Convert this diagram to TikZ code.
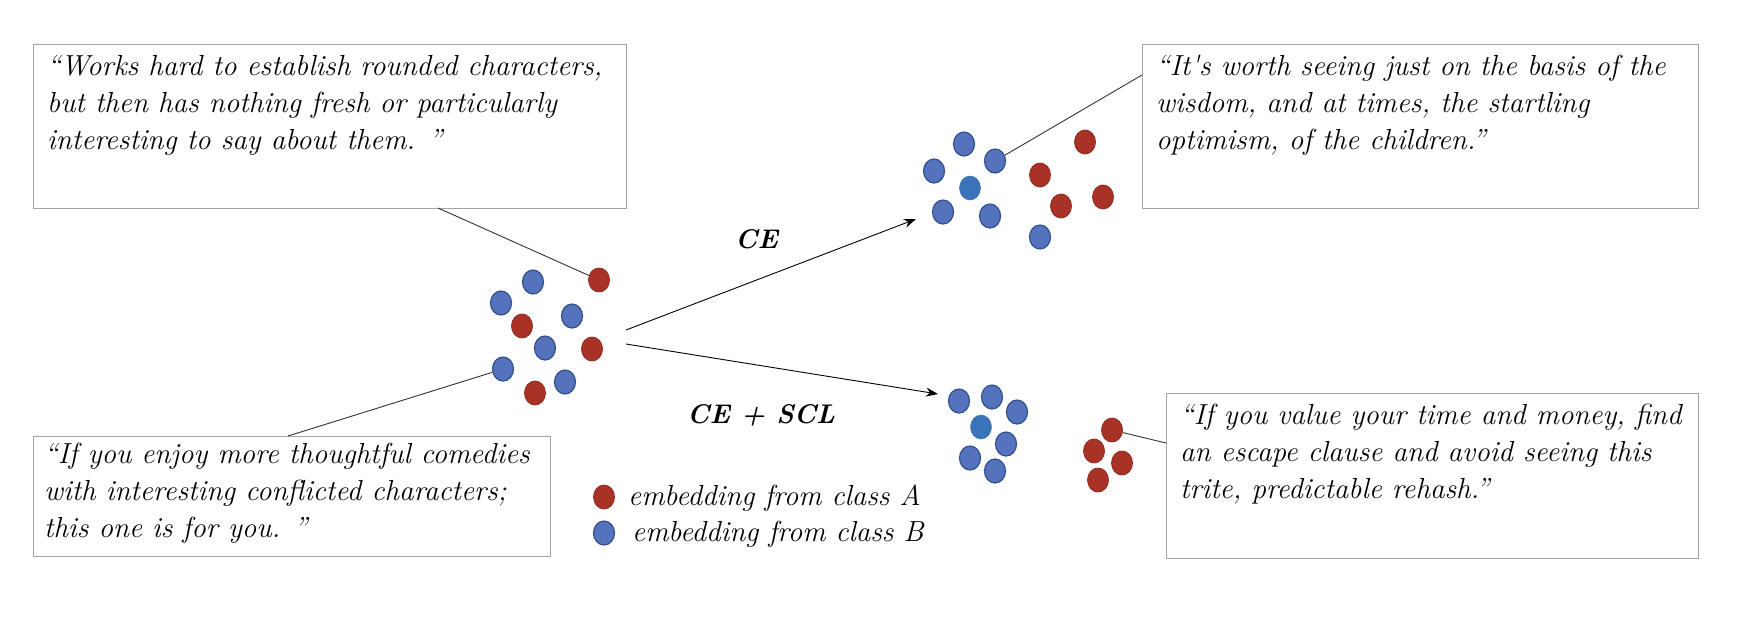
\documentclass[tikz,border=0pt]{standalone}
\usepackage{fontspec}
\usetikzlibrary{shapes.geometric,arrows.meta}
\definecolor{dotred}{RGB}{169,50,38}
\definecolor{dotreddark}{RGB}{145,42,32}
\definecolor{dotblue}{RGB}{84,115,188}
\definecolor{dotbluedark}{RGB}{50,80,140}
\definecolor{dotbluec}{RGB}{59,115,186}
\definecolor{boxgray}{RGB}{165,165,165}
\newcommand{\qfont}{\fontsize{29}{37}\selectfont\itshape}
\newcommand{\qlines}[1]{\begin{tabular}[t]{@{}l@{}}#1\end{tabular}}
\begin{document}
\begin{tikzpicture}[x=1pt,y=-1pt,
  dotA/.style={ellipse, fill=dotred, draw=dotreddark, line width=0.8pt, minimum width=21pt, minimum height=24pt, inner sep=0pt},
  dotB/.style={ellipse, fill=dotblue, draw=dotbluedark, line width=1.2pt, minimum width=21pt, minimum height=24pt, inner sep=0pt},
  dotC/.style={ellipse, fill=dotbluec, draw=dotbluec, line width=0.5pt, minimum width=21pt, minimum height=24pt, inner sep=0pt},
  qbox/.style={draw=boxgray, line width=1.2pt, rectangle, inner sep=0pt, anchor=north west},
  qtext/.style={anchor=base west, inner sep=0pt, font=\qfont},
  conn/.style={draw=black!80, line width=0.9pt},
  arr/.style={draw=black, line width=0.9pt, -{Stealth[length=12pt,width=9pt]}},
  lab/.style={font=\fontsize{27}{32}\selectfont\bfseries\itshape, anchor=base west, inner sep=0pt}
]
\useasboundingbox[fill=white] (0,0) rectangle (1738,616);

% quote boxes
\node[qbox, minimum width=593pt, minimum height=164pt] (b1) at (33,44) {};
\node[qbox, minimum width=556pt, minimum height=164pt] (b2) at (1142,44) {};
\node[qbox, minimum width=517pt, minimum height=120pt] (b3) at (33,436) {};
\node[qbox, minimum width=532pt, minimum height=165pt] (b4) at (1166,393) {};

\node[qtext] (t1) at (47,75) {\qlines{“Works hard to establish rounded characters,\\ but then has nothing fresh or particularly\\ interesting to say about them. ”}};
\node[qtext] (t2) at (1156,75) {\qlines{“It\textquotesingle s worth seeing just on the basis of the\\ wisdom, and at times, the startling\\ optimism, of the children.”}};
\node[qtext] (t3) at (44,463) {\qlines{“If you enjoy more thoughtful comedies\\ with interesting conflicted characters;\\ this one is for you. ”}};
\node[qtext] (t4) at (1180,424) {\qlines{“If you value your time and money, find\\ an escape clause and avoid seeing this\\ trite, predictable rehash.”}};

% left cluster
\node[dotA] (l1) at (599,280) {};
\node[dotB] (l2) at (533,282) {};
\node[dotB] (l3) at (501,303) {};
\node[dotA] (l4) at (522,326) {};
\node[dotB] (l5) at (572,316) {};
\node[dotB] (l6) at (545,348) {};
\node[dotA] (l7) at (592,349) {};
\node[dotB] (l8) at (503,369) {};
\node[dotB] (l9) at (565,382) {};
\node[dotA] (l10) at (535,393) {};

% top right cluster (CE)
\node[dotB] (u1) at (964,144) {};
\node[dotB] (u2) at (995,161) {};
\node[dotB] (u3) at (934,171) {};
\node[dotC] (u4) at (970,188) {};
\node[dotB] (u5) at (943,212) {};
\node[dotB] (u6) at (990,216) {};
\node[dotB] (u7) at (1040,237) {};
\node[dotA] (u8) at (1085,142) {};
\node[dotA] (u9) at (1040,175) {};
\node[dotA] (u10) at (1061,206) {};
\node[dotA] (u11) at (1103,197) {};

% bottom cluster (CE + SCL)
\node[dotB] (d1) at (959,401) {};
\node[dotB] (d2) at (992,397) {};
\node[dotB] (d3) at (1017,412) {};
\node[dotC] (d4) at (981,427) {};
\node[dotB] (d5) at (1006,444) {};
\node[dotB] (d6) at (970,458) {};
\node[dotB] (d7) at (995,471) {};
\node[dotA] (d8) at (1112,430) {};
\node[dotA] (d9) at (1094,451) {};
\node[dotA] (d10) at (1122,463) {};
\node[dotA] (d11) at (1098,480) {};

% connectors to quote boxes
\coordinate (c1) at (438,208);
\coordinate (c2) at (1142,75);
\coordinate (c3) at (288,436);
\coordinate (c4) at (1166,443);
\draw[conn] (c1) -- (l1);
\draw[conn] (c2) -- (u2);
\draw[conn] (c3) -- (l8);
\draw[conn] (c4) -- (d8);

% arrows
\coordinate (aS1) at (626,330);
\coordinate (aE1) at (916,219);
\coordinate (aS2) at (626,344);
\coordinate (aE2) at (938,394);
\draw[arr] (aS1) -- (aE1);
\draw[arr] (aS2) -- (aE2);
\node[lab] (ce) at (735,248) {CE};
\node[lab] (cescl) at (687,423) {CE + SCL};

% legend
\node[dotA] (lgA) at (604,497) {};
\node[dotB] (lgB) at (604,533) {};
\node[qtext] (lgAt) at (628,505) {embedding from class A};
\node[qtext] (lgBt) at (632,541) {embedding from class B};
\end{tikzpicture}
\end{document}
